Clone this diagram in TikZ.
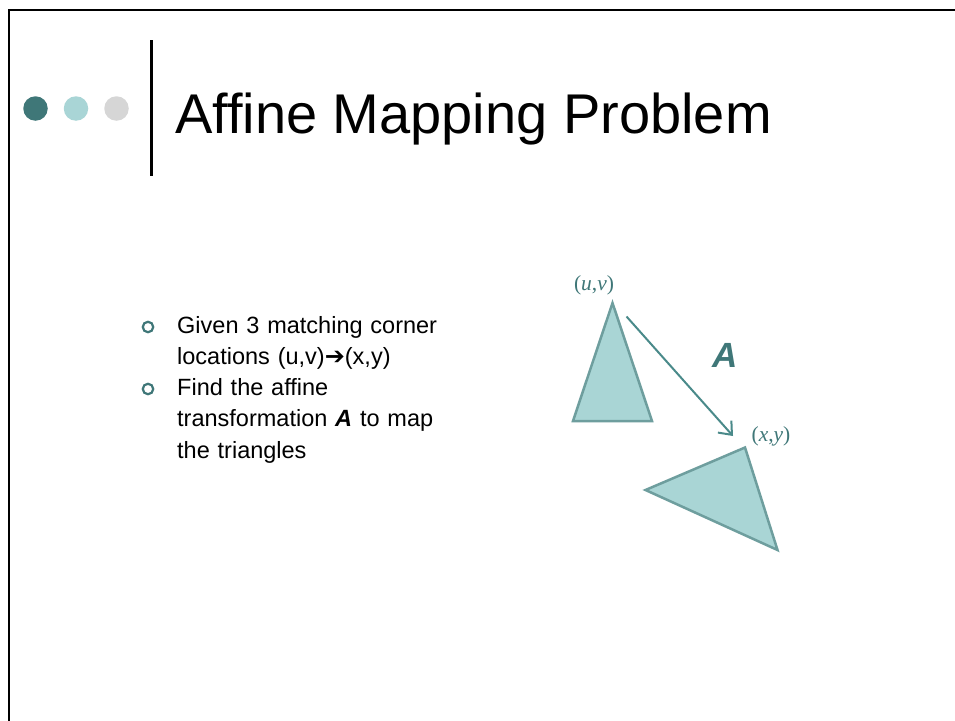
\documentclass[tikz,border=0pt]{standalone}
\usepackage{fontspec}
\setmainfont{Liberation Sans}
\newfontfamily\tnr{Liberation Serif}
\newfontfamily\djv{DejaVu Sans}
\usetikzlibrary{arrows.meta}
\definecolor{tealdark}{HTML}{3F7778}
\definecolor{teallight}{HTML}{A9D5D6}
\definecolor{greydot}{HTML}{D6D6D6}
\definecolor{trifill}{HTML}{A9D5D5}
\definecolor{triedge}{HTML}{6E9E9E}
\definecolor{arrowc}{HTML}{4A8A8A}
\definecolor{labc}{HTML}{3F7778}
\tikzset{
  tri/.style={fill=trifill, draw=triedge, line width=2.5pt, line join=miter},
  dot/.style={circle, inner sep=0pt, minimum size=24.5pt},
  bul/.style={anchor=north west, align=left, inner sep=0pt, font=\fontsize{23.5}{31.2}\selectfont, text width=300pt},
  ring/.style={circle, draw=tealdark, line width=2.2pt, inner sep=0pt, minimum size=10.5pt},
  lab/.style={text=labc, font=\tnr\fontsize{21.5}{24}\selectfont, inner sep=0pt}
}
\begin{document}
\begin{tikzpicture}[x=1pt,y=-1pt]
\useasboundingbox (0,0) rectangle (955,720);
\fill[white] (0,0) rectangle (955,720);
% frame
\draw[line width=2pt] (8.5,725) -- (8.5,9.5) -- (960,9.5);
% header dots
\node[dot, fill=tealdark] (d1) at (35.5,108.5) {};
\node[dot, fill=teallight] (d2) at (76,108.5) {};
\node[dot, fill=greydot] (d3) at (116.5,108.5) {};
% vertical bar
\draw[line width=3pt] (151,40) -- (151,176);
% title
\node[anchor=base west, inner sep=0pt, font=\fontsize{56}{60}\selectfont] (title) at (175,133) {Affine Mapping Problem};
% bullets
\node[ring] (r1) at (148,327) {};
\node[ring] (r2) at (148,389) {};
\node[bul] (b1) at (177,316.5) {Given 3 matching corner\\locations (u,v)\raisebox{0.5pt}{\djv\fontsize{24}{31}\selectfont ➔}(x,y)};
\node[bul] (b2) at (177,378.5) {Find the affine\\transformation \textbf{\textit{A}} to map\\the triangles};
% triangles
\draw[tri] (612.5,303) -- (573,421) -- (652,421) -- cycle;
\draw[tri] (745,447.5) -- (645.5,490) -- (777.5,550) -- cycle;
% labels
\node[lab] (uv) at (594,285) {(\textit{u},\textit{v})};
\node[lab] (xy) at (771,436) {(\textit{x},\textit{y})};
\node[text=labc, font=\bfseries\itshape\fontsize{35}{40}\selectfont, inner sep=0pt] (Alab) at (725,355) {A};
% arrow
\coordinate (as) at (626.5,316.5);
\coordinate (ae) at (733,436);
\draw[arrowc, line width=2pt, -{Straight Barb[length=11pt,width=18pt,line width=2pt]}] (as) -- (ae);
\end{tikzpicture}
\end{document}
